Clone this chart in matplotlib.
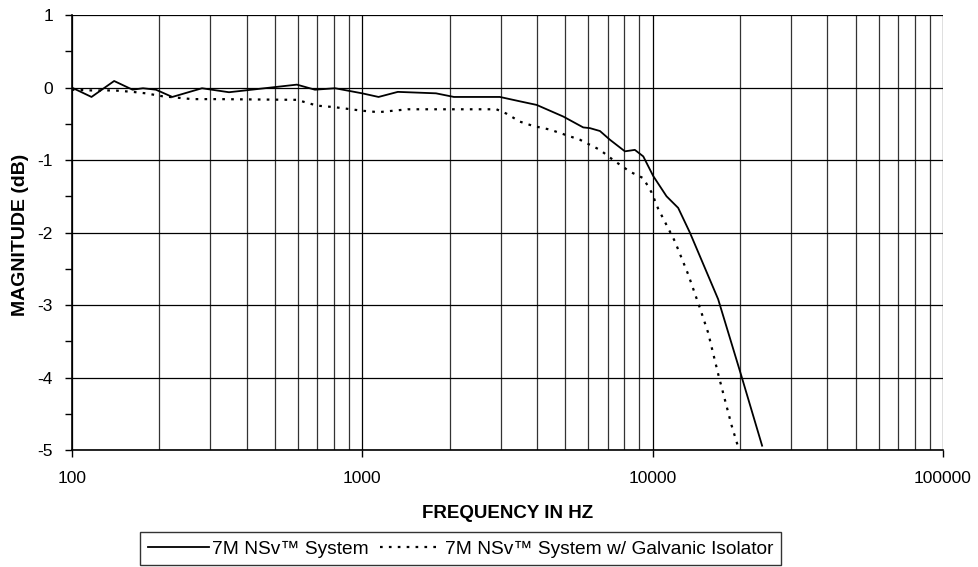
import matplotlib
matplotlib.use("Agg")
import matplotlib.pyplot as plt
from matplotlib.ticker import FixedLocator, NullFormatter, FixedFormatter, LogLocator
import numpy as np

plt.rcParams['font.family'] = ['Liberation Sans', 'DejaVu Sans']
plt.rcParams['axes.unicode_minus'] = False

# Series 1: 7M NSv System (solid)
f1 = [100, 117, 140, 162, 176, 195, 222, 281, 348, 596, 688, 807, 1000, 1139, 1327,
      1796, 2070, 2980, 3490, 3990, 4925, 5770, 6085, 6590, 7130, 8030, 8690, 9290,
      10050, 11170, 12250, 13440, 16820, 20230, 23830]
m1 = [0.0, -0.13, 0.09, -0.03, -0.01, -0.03, -0.13, -0.01, -0.065, 0.04, -0.03, -0.01,
      -0.08, -0.13, -0.06, -0.08, -0.13, -0.13, -0.19, -0.24, -0.40, -0.55, -0.56,
      -0.60, -0.72, -0.88, -0.86, -0.95, -1.22, -1.50, -1.66, -2.0, -2.92, -3.98, -4.94]

# Series 2: 7M NSv System w/ Galvanic Isolator (dotted)
f2 = [100, 117, 140, 162, 180, 205, 260, 321, 596, 700, 800, 1000, 1139, 1437, 2900,
      3140, 3490, 3880, 4430, 5620, 6590, 7320, 8350, 9290, 9930, 10450, 11930,
      13270, 14550, 15530, 16820, 18710, 19820]
m2 = [-0.03, -0.04, -0.04, -0.06, -0.08, -0.12, -0.16, -0.16, -0.17, -0.25, -0.27,
      -0.32, -0.34, -0.30, -0.30, -0.36, -0.47, -0.53, -0.58, -0.72, -0.86, -1.0,
      -1.16, -1.25, -1.45, -1.67, -2.12, -2.58, -3.04, -3.38, -3.95, -4.66, -4.99]

label1 = "7M NSv\u2122 System"
label2 = "7M NSv\u2122 System w/ Galvanic Isolator"
x_ticks = [100, 1000, 10000, 100000]
x_ticklabels = ["100", "1000", "10000", "100000"]
y_ticks = [-5, -4, -3, -2, -1, 0, 1]

fig = plt.figure(figsize=(9.79, 5.67), dpi=100)
ax = fig.add_axes([71.7 / 979, 0.2063, 871.3 / 979, 0.7672])

ax.plot(f1, m1, color='black', lw=1.3, linestyle='-', label=label1)
ax.plot(f2, m2, color='black', lw=1.6, linestyle=(0, (1.2, 2.8)), label=label2)

ax.set_xscale('log')
ax.set_xlim(100, 100000)
ax.set_ylim(-5, 1)

ax.xaxis.set_major_locator(FixedLocator(x_ticks))
ax.xaxis.set_major_formatter(FixedFormatter(x_ticklabels))
ax.xaxis.set_minor_locator(LogLocator(base=10, subs=np.arange(2, 10)))
ax.xaxis.set_minor_formatter(NullFormatter())
ax.yaxis.set_major_locator(FixedLocator(y_ticks))
ax.yaxis.set_minor_locator(FixedLocator(np.arange(-5, 1.01, 0.5)))

ax.grid(True, which='major', axis='both', color='black', lw=0.9)
ax.grid(True, which='minor', axis='x', color='#333333', lw=0.9)

ax.tick_params(axis='y', which='major', direction='out', length=5, width=1, labelsize=12.5, pad=8.5)
ax.tick_params(axis='y', which='minor', direction='out', length=5, width=1)
ax.tick_params(axis='x', which='major', direction='out', length=5, width=1, labelsize=12.5, pad=10)
ax.tick_params(axis='x', which='minor', length=0)

for s in ['top', 'right']:
    ax.spines[s].set_visible(False)
for s in ['left', 'bottom']:
    ax.spines[s].set_linewidth(1.2)

fig.text(508 / 979, 1 - 513 / 567, "FREQUENCY IN HZ", fontsize=13.5, fontweight='bold',
         ha='center', va='center')
fig.text(21 / 979, 1 - 235 / 567, "MAGNITUDE (dB)", fontsize=14, fontweight='bold',
         ha='center', va='center', rotation=90)

leg = fig.legend(loc='center', bbox_to_anchor=(0.4704, 0.032), ncol=2,
                 frameon=True, fancybox=False, edgecolor='black', fontsize=13.8,
                 handlelength=3.2, columnspacing=0.6, handletextpad=0.15,
                 borderpad=0.4, borderaxespad=0)
leg.get_frame().set_linewidth(1.0)

fig.savefig("out.png", dpi=100, facecolor='white')
